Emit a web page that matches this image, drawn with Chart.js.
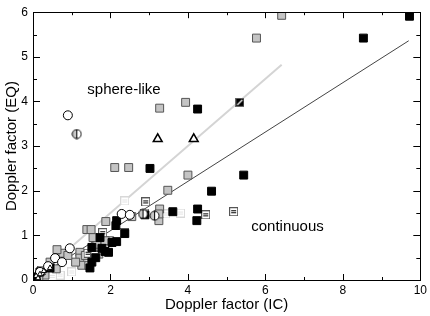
<!DOCTYPE html>
<html>
<head>
  <title>Doppler factor EQ vs IC</title>
  <style>
    html, body { margin: 0; padding: 0; background: #fff; }
    canvas { display: block; }
  </style>
</head>
<body>
  <canvas id="chart" width="430" height="316"></canvas>

  <script src="https://cdn.jsdelivr.net/npm/chart.js"></script>
  <script>
    // values, [IC, EQ]
    const blackSquares = [
      [9.72, 5.91], [8.53, 5.42], [4.25, 3.83], [3.02, 2.50], [4.61, 1.99], [5.44, 2.35],
      [3.61, 1.53], [4.25, 1.59], [4.23, 1.33], [2.16, 1.33], [2.14, 1.22], [2.37, 1.04],
      [2.16, 0.86], [2.04, 0.84], [1.52, 0.73], [1.78, 0.71], [1.86, 0.64], [1.52, 0.40],
      [1.47, 0.27], [1.73, 0.95], [2.89, 1.46], [0.44, 0.27], [0.18, 0.18], [0.08, 0.07],
      [1.95, 0.62], [1.62, 0.50]
    ];
    const graySquares = [
      [6.42, 5.93], [5.77, 5.42], [3.27, 3.85], [3.94, 3.98], [2.11, 2.52], [2.47, 2.52],
      [4.00, 2.35], [3.48, 2.01], [3.27, 1.59], [3.25, 1.33], [1.39, 1.13], [1.88, 1.31],
      [1.98, 0.88], [1.21, 0.62], [1.21, 0.49], [1.26, 0.33], [1.44, 0.33], [0.77, 0.60],
      [0.44, 0.40], [2.55, 1.42], [3.25, 1.48], [1.65, 0.80], [1.10, 0.40], [0.90, 0.55],
      [0.31, 0.11], [1.86, 0.88], [1.50, 1.13], [1.55, 0.95], [1.35, 0.55], [1.70, 0.58],
      [0.62, 0.68], [0.15, 0.05], [0.60, 0.25]
    ];
    const stripedSquares = [
      [5.18, 1.53], [4.46, 1.46], [2.91, 1.75], [2.89, 1.50], [1.80, 1.06], [2.35, 1.06],
      [1.42, 0.60], [0.23, 0.22], [1.60, 0.55]
    ];
    const lightSquares = [
      [2.37, 1.77], [3.81, 1.50], [3.43, 1.48], [1.73, 0.88], [1.00, 0.18], [0.70, 0.11],
      [0.50, 0.08]
    ];
    const halfSquares = [[5.34, 3.98]];
    const openCircles = [
      [0.90, 3.69], [2.29, 1.48], [2.50, 1.46], [0.95, 0.71], [0.57, 0.49], [0.75, 0.40],
      [0.39, 0.31], [0.18, 0.18]
    ];
    const halfCircles = [[1.13, 3.27], [2.84, 1.48], [3.14, 1.44]];
    const triangles = [[3.22, 3.16], [4.15, 3.16]];
    const smallTriangles = [[0.08, 0.09], [0.18, 0.13], [0.28, 0.20], [0.44, 0.27], [0.13, 0.04]];

    const sphereLine = [[0, 0], [6.42, 4.82]];
    const continuousLine = [[0, 0], [9.70, 5.36]];

    const xTicks = [0, 2, 4, 6, 8, 10];
    const yTicks = [0, 1, 2, 3, 4, 5, 6];

    const pts = arr => arr.map(p => ({ x: p[0], y: p[1] }));

    // little canvases used as point styles
    function stripedSquare(edge, stripe) {
      const c = document.createElement('canvas');
      c.width = 9; c.height = 9;
      const g = c.getContext('2d');
      g.fillStyle = '#fff'; g.fillRect(0, 0, 9, 9);
      g.strokeStyle = edge; g.lineWidth = 1; g.strokeRect(0.5, 0.5, 8, 8);
      g.fillStyle = stripe; g.fillRect(2, 3, 5, 1); g.fillRect(2, 5, 5, 1);
      return c;
    }
    function halfSquare() {
      const c = document.createElement('canvas');
      c.width = 9; c.height = 9;
      const g = c.getContext('2d');
      g.fillStyle = '#000'; g.fillRect(0, 0, 9, 9);
      g.strokeStyle = '#fff'; g.lineWidth = 1.3;
      g.beginPath(); g.moveTo(2, 7); g.lineTo(7, 2); g.stroke();
      g.strokeStyle = '#666'; g.lineWidth = 1; g.strokeRect(0.5, 0.5, 8, 8);
      return c;
    }
    function halfCircle() {
      const c = document.createElement('canvas');
      c.width = 11; c.height = 11;
      const g = c.getContext('2d');
      g.fillStyle = '#fff';
      g.beginPath(); g.arc(5.5, 5.5, 4.5, 0, Math.PI * 2); g.fill();
      g.fillStyle = '#c8c8c8';
      g.beginPath(); g.arc(5.5, 5.5, 4.5, Math.PI / 2, Math.PI * 1.5); g.fill();
      g.strokeStyle = '#000'; g.lineWidth = 1;
      g.beginPath(); g.moveTo(5.5, 1); g.lineTo(5.5, 10); g.stroke();
      g.beginPath(); g.arc(5.5, 5.5, 4.5, 0, Math.PI * 2); g.stroke();
      return c;
    }

    const frameAndText = {
      id: 'frameAndText',
      afterDraw(chart) {
        const { ctx, chartArea: a, scales } = chart;
        const xs = scales.x, ys = scales.y;
        ctx.save();
        ctx.strokeStyle = '#000';
        ctx.lineWidth = 1;
        ctx.strokeRect(Math.round(a.left) + 0.5, Math.round(a.top) + 0.5,
          Math.round(a.right - a.left), Math.round(a.bottom - a.top));
        ctx.beginPath();
        for (let v = 0; v <= 10; v++) {
          const px = Math.round(xs.getPixelForValue(v)) + 0.5;
          const len = v % 2 === 0 ? 6 : 3;
          ctx.moveTo(px, a.bottom); ctx.lineTo(px, a.bottom - len);
          ctx.moveTo(px, a.top); ctx.lineTo(px, a.top + len);
        }
        for (let v = 0; v <= 12; v++) {
          const py = Math.round(ys.getPixelForValue(v / 2)) + 0.5;
          const len = v % 2 === 0 ? 7 : 4;
          ctx.moveTo(a.left, py); ctx.lineTo(a.left + len, py);
          ctx.moveTo(a.right, py); ctx.lineTo(a.right - len, py);
        }
        ctx.stroke();
        ctx.fillStyle = '#000';
        ctx.font = '15px "Liberation Sans", Arial, sans-serif';
        ctx.textAlign = 'center';
        ctx.textBaseline = 'middle';
        ctx.fillText('sphere-like', xs.getPixelForValue(2.35), ys.getPixelForValue(4.25));
        ctx.fillText('continuous', xs.getPixelForValue(6.57), ys.getPixelForValue(1.19));
        ctx.restore();
      }
    };

    const tickFont = { family: '"Liberation Sans", Arial, sans-serif', size: 12 };
    const titleFont = { family: '"Liberation Sans", Arial, sans-serif', size: 15 };

    new Chart(document.getElementById('chart'), {
      type: 'scatter',
      data: {
        datasets: [
          { data: pts(sphereLine), type: 'line', showLine: true, borderColor: '#d4d4d4', borderWidth: 2,
            pointRadius: 0, fill: false, order: 20 },
          { data: pts(continuousLine), type: 'line', showLine: true, borderColor: '#444', borderWidth: 1,
            pointRadius: 0, fill: false, order: 20 },
          { data: pts(lightSquares), pointStyle: stripedSquare('#d8d8d8', '#e4e4e4'), order: 9 },
          { data: pts(graySquares), pointStyle: 'rect', pointRadius: 5.6, backgroundColor: '#c4c4c4',
            borderColor: '#555', borderWidth: 1, order: 8 },
          { data: pts(stripedSquares), pointStyle: stripedSquare('#555', '#000'), order: 7 },
          { data: pts(blackSquares), pointStyle: 'rect', pointRadius: 5.6, backgroundColor: '#000',
            borderColor: '#000', borderWidth: 1, order: 6 },
          { data: pts(openCircles), pointStyle: 'circle', pointRadius: 4.5, backgroundColor: '#fff',
            borderColor: '#000', borderWidth: 1, order: 5 },
          { data: pts(halfCircles), pointStyle: halfCircle(), order: 4 },
          { data: pts(halfSquares), pointStyle: halfSquare(), order: 3 },
          { data: pts(triangles), pointStyle: 'triangle', pointRadius: 5, backgroundColor: '#fff',
            borderColor: '#000', borderWidth: 1.6, order: 2 },
          { data: pts(smallTriangles), pointStyle: 'triangle', pointRadius: 3, backgroundColor: '#fff',
            borderColor: '#000', borderWidth: 1, order: 1 }
        ]
      },
      options: {
        responsive: false,
        animation: false,
        layout: { padding: { left: 0, right: 9, top: 9, bottom: 0 } },
        plugins: { legend: { display: false }, tooltip: { enabled: false } },
        scales: {
          x: {
            type: 'linear', min: 0, max: 10,
            afterBuildTicks: s => { s.ticks = xTicks.map(v => ({ value: v })); },
            afterFit: s => { s.height = 36; },
            grid: { display: false, drawTicks: false },
            border: { display: false },
            ticks: { color: '#000', font: tickFont, padding: 3, maxRotation: 0 },
            title: { display: true, text: 'Doppler factor (IC)', color: '#000', font: titleFont,
              padding: { top: 0, bottom: 2 } }
          },
          y: {
            type: 'linear', min: 0, max: 6,
            afterBuildTicks: s => { s.ticks = yTicks.map(v => ({ value: v })); },
            afterFit: s => { s.width = 33; },
            grid: { display: false, drawTicks: false },
            border: { display: false },
            ticks: { color: '#000', font: tickFont, padding: 5 },
            title: { display: true, text: 'Doppler factor (EQ)', color: '#000', font: titleFont,
              padding: { top: 3, bottom: 0 } }
          }
        }
      },
      plugins: [frameAndText]
    });
  </script>
</body>
</html>
